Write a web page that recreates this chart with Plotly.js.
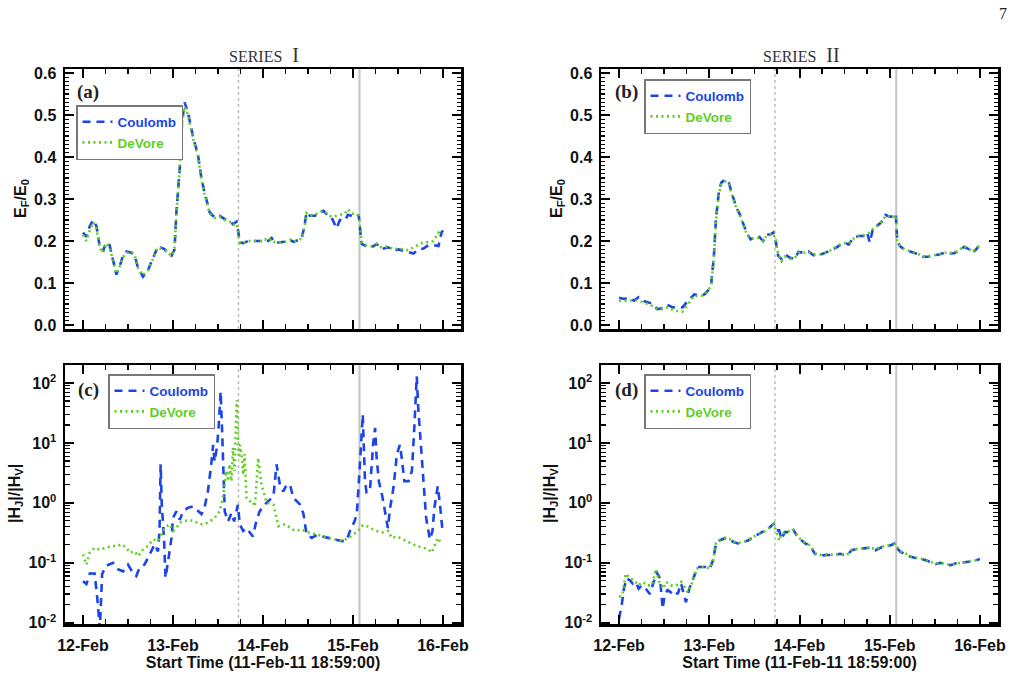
<!DOCTYPE html>
<html>
<head>
<meta charset="utf-8">
<script src="https://cdn.plot.ly/plotly-3.0.1.min.js"></script>
<style>html,body{margin:0;padding:0;background:#fff;}#chart{width:1025px;height:692px;}</style>
</head>
<body>
<div id="chart"></div>
<script>
// ---- Data (hours after 2011-02-12 00:00 UT) ----
const seriesTitles = ['SERIES', 'SERIES'];
const seriesNumerals = ['I', 'II'];
const panelLabels = ['(a)', '(b)', '(c)', '(d)'];
const seriesNames = ['Coulomb', 'DeVore'];
const flareTimes = ['2011-02-13 17:28', '2011-02-15 01:44'];
const xAxisTitle = 'Start Time (11-Feb-11 18:59:00)';

// Panel (a): E_F/E_0, series I
const hoursA_C = [0,0.9,1.8,2.7,3.6,4.4,5.3,6.2,7.1,8,8.9,9.8,10.7,11.6,12.9,13.8,14.7,16,17.3,18.7,20,21.8,22.7,23.6,24.4,24.9,25.8,26.4,27.1,28,29.3,30.7,31.6,32.4,33.8,35.1,36.4,37.8,39.1,40,40.9,41.3,41.8,42.7,44,45.8,47.6,48.5,49.4,50.3,51.2,52.5,53.9,55.2,56.1,57.4,58.3,59,59.6,60.5,61.9,62.8,64.1,65.4,66.3,67.6,68.5,69.9,70.6,71.7,72.6,73.5,73.9,74.3,75.7,77,78.3,79.6,81.4,82.8,84.1,85.5,86.8,88.1,89.4,90.8,92.1,93.4,94.8,95.6,96];
const efA_C = [0.22,0.21,0.235,0.25,0.235,0.19,0.175,0.197,0.19,0.152,0.12,0.14,0.166,0.175,0.172,0.165,0.135,0.115,0.13,0.16,0.188,0.18,0.17,0.165,0.18,0.268,0.372,0.483,0.53,0.506,0.45,0.403,0.348,0.316,0.268,0.256,0.26,0.252,0.248,0.24,0.246,0.228,0.197,0.195,0.2,0.2,0.2,0.204,0.2,0.207,0.195,0.197,0.198,0.203,0.198,0.202,0.206,0.233,0.268,0.26,0.26,0.268,0.272,0.26,0.256,0.23,0.25,0.249,0.262,0.26,0.256,0.262,0.233,0.193,0.187,0.185,0.193,0.181,0.185,0.177,0.18,0.177,0.173,0.17,0.18,0.182,0.19,0.19,0.188,0.22,0.225];
const hoursA_D = hoursA_C;
const efA_D = [0.215,0.2,0.225,0.245,0.23,0.185,0.172,0.195,0.185,0.15,0.122,0.14,0.162,0.172,0.175,0.165,0.135,0.118,0.13,0.158,0.185,0.178,0.172,0.165,0.18,0.265,0.37,0.48,0.52,0.5,0.445,0.4,0.345,0.312,0.265,0.255,0.258,0.25,0.246,0.238,0.242,0.225,0.195,0.195,0.2,0.2,0.2,0.204,0.2,0.205,0.197,0.197,0.198,0.203,0.198,0.202,0.206,0.23,0.266,0.26,0.262,0.268,0.272,0.262,0.258,0.26,0.262,0.266,0.276,0.265,0.265,0.26,0.233,0.195,0.19,0.187,0.193,0.185,0.187,0.18,0.182,0.18,0.178,0.185,0.19,0.197,0.197,0.2,0.22,0.215,0.218];

// Panel (b): E_F/E_0, series II
const hoursB_C = [0,1.3,2.7,4,5.2,6.2,7.6,8.9,10.2,11.6,12.9,14.3,15.6,16.9,18,19.2,20,21.4,22.7,23.6,24.5,25.2,25.8,26.6,27.2,28.3,29.2,30.1,31.2,32.1,33,33.9,35,36.1,37.3,38.3,39.2,40.3,41,41.7,42.3,43.2,44.1,45.5,46.8,47.7,49,50.4,51.7,53,54.4,56.1,57.9,59.7,61.1,62.4,63.7,65.1,66,66.7,67.6,68.6,69.7,70.9,72,73.1,73.6,74,74.7,75.9,77.1,78.4,79.8,81.1,82.4,83.8,85.1,86.5,87.8,89.1,90.5,91.8,93.2,94,95,96];
const efB_C = [0.065,0.062,0.065,0.058,0.066,0.058,0.054,0.051,0.038,0.04,0.048,0.042,0.043,0.042,0.054,0.067,0.073,0.07,0.073,0.081,0.097,0.16,0.256,0.32,0.339,0.347,0.339,0.311,0.28,0.264,0.24,0.22,0.204,0.209,0.21,0.2,0.215,0.216,0.22,0.2,0.165,0.157,0.168,0.16,0.157,0.174,0.172,0.175,0.166,0.167,0.17,0.177,0.185,0.196,0.192,0.208,0.212,0.212,0.22,0.196,0.232,0.236,0.244,0.262,0.258,0.258,0.264,0.2,0.188,0.18,0.177,0.172,0.168,0.162,0.163,0.165,0.168,0.172,0.17,0.171,0.177,0.186,0.18,0.172,0.18,0.192];
const hoursB_D = hoursB_C;
const efB_D = [0.057,0.058,0.057,0.06,0.058,0.055,0.05,0.045,0.037,0.038,0.042,0.036,0.033,0.032,0.045,0.062,0.07,0.068,0.072,0.08,0.095,0.158,0.25,0.315,0.335,0.342,0.335,0.308,0.278,0.262,0.238,0.218,0.205,0.208,0.208,0.2,0.212,0.215,0.218,0.2,0.17,0.152,0.163,0.158,0.16,0.172,0.172,0.174,0.168,0.167,0.17,0.177,0.186,0.196,0.194,0.206,0.212,0.214,0.218,0.22,0.23,0.236,0.244,0.26,0.258,0.258,0.262,0.2,0.188,0.18,0.177,0.173,0.168,0.163,0.164,0.166,0.168,0.172,0.172,0.172,0.178,0.188,0.18,0.174,0.182,0.19];

// Panel (c): |H_J|/|H_V|, series I
const hoursC_C = [0,0.9,1.8,3.1,3.8,4.5,5.1,6.2,8,9.3,10.7,12,13.3,14.2,15.1,16.4,17.8,19.1,20,20.4,20.7,21,21.6,22,22.7,23.6,24,24.9,25.8,26.7,28,29.3,30.2,31.6,32.4,33.3,34.2,34.7,35.1,35.8,36.2,36.7,37.1,37.4,37.8,38.7,39.6,40.3,40.9,41.3,41.8,42.7,43.6,44.4,45.3,46.2,47.1,48.4,49.9,50.8,51.6,52.5,53.4,54.3,55.2,56.1,57,57.9,58.8,59.6,61,62.3,63.7,65.4,67.2,69,70.3,71.2,72.4,73,73.4,73.9,74.1,74.6,74.9,75.2,75.6,76.5,77.4,77.9,78.3,78.9,79.8,80.7,81.3,81.9,82.8,83.7,84.5,85,85.7,86.8,87.7,88.3,88.7,89,89.4,90.1,90.8,91.5,92.5,93.2,93.7,94.6,95.2,95.8];
const hjC_C = [0.049,0.044,0.066,0.066,0.026,0.008,0.065,0.089,0.1,0.078,0.072,0.093,0.068,0.06,0.083,0.093,0.138,0.204,0.155,0.34,4.4,0.93,0.26,0.056,0.107,0.26,0.56,0.72,0.52,0.72,0.83,0.87,0.78,0.65,0.83,1.55,4.4,9.3,4.9,9.3,20,72,15.5,4.4,0.72,0.49,0.68,0.49,0.68,0.93,0.44,0.34,0.38,0.32,0.275,0.49,0.72,0.93,1.15,1.3,4.4,2.0,1.55,2.0,2.0,1.2,1.07,0.93,0.65,0.3,0.26,0.29,0.275,0.26,0.245,0.23,0.235,0.34,0.49,0.65,1.55,4.4,8.3,30,4.4,2.3,1.5,1.55,10,17.8,5.6,2.3,1.3,0.65,0.38,0.83,1.8,6.5,9.3,5.6,2.3,2.3,3.4,15.5,72,130,38,8.3,2.0,0.56,0.245,0.34,0.83,1.9,0.93,0.38];
const hoursC_D = [0,0.9,1.8,3.1,4.4,5.8,7.6,9.3,10.2,11.6,12.4,13.8,14.7,16,17.3,18.7,20,21.8,23.1,24,24.9,25.8,27.1,28.4,29.8,31.1,32.4,33.8,35.1,36.4,37.3,38.2,38.7,39.1,39.6,40,40.4,40.7,41,41.3,41.6,41.9,42.4,42.7,43.1,43.6,44.4,45.3,45.8,46.2,46.7,47.6,48.1,49,50.8,52.1,53.9,55.2,56.5,58.3,60.1,61.9,63.7,65.4,67.2,69,70.8,72.1,73.4,74.3,75.2,76.5,78.3,80.1,81.4,82.3,83.7,85.4,87.2,89,90.8,92.1,93,93.7,94.6,95.7];
const hjC_D = [0.138,0.093,0.148,0.178,0.166,0.178,0.19,0.19,0.204,0.178,0.148,0.155,0.129,0.166,0.19,0.245,0.23,0.38,0.44,0.34,0.38,0.47,0.49,0.52,0.49,0.44,0.44,0.49,0.56,0.72,1.2,3.4,2.3,4.4,2.3,8.3,3.4,20,52,15.5,5.6,9.3,5.6,2.95,6.5,1.2,1.07,1.07,0.87,1.8,5.6,2.0,1.55,1.0,0.93,0.41,0.44,0.38,0.34,0.36,0.32,0.3,0.28,0.27,0.25,0.23,0.26,0.3,0.34,0.41,0.43,0.38,0.34,0.32,0.34,0.26,0.275,0.245,0.214,0.19,0.178,0.166,0.148,0.19,0.26,0.204];

// Panel (d): |H_J|/|H_V|, series II
const hoursD_C = [0,0.7,1.3,2,2.9,3.6,4.5,5.2,6,7.1,8.2,9.1,10,10.9,11.6,12.1,12.9,13.8,14.7,15.6,16.5,17.1,17.8,18.7,19.6,20.9,21.8,23,24.1,25,25.8,26.7,28.1,29.4,30.3,31.6,33,34.3,35.7,37,38.3,39.7,40.6,41.2,41.9,42.6,43.2,44.1,45,46.2,47.2,48.1,49.5,50.8,52.1,53.5,55.3,57,58.8,60.6,61.9,63.3,65.1,66.8,68.2,69.5,70.9,72.2,73.5,74,74.9,76.2,77.5,78.9,80.2,81.6,82.9,84.2,85.6,86.9,88.2,89.6,90.9,92.2,93.6,94.9,96];
const hjD_C = [0.0117,0.0195,0.037,0.055,0.051,0.045,0.048,0.037,0.042,0.037,0.03,0.048,0.069,0.055,0.017,0.029,0.035,0.032,0.035,0.03,0.045,0.032,0.022,0.037,0.051,0.085,0.085,0.085,0.079,0.11,0.21,0.234,0.257,0.25,0.224,0.21,0.224,0.234,0.27,0.3,0.324,0.37,0.417,0.447,0.347,0.347,0.25,0.324,0.324,0.37,0.29,0.25,0.21,0.195,0.141,0.132,0.135,0.135,0.141,0.132,0.162,0.17,0.174,0.178,0.162,0.178,0.195,0.195,0.214,0.174,0.151,0.141,0.126,0.12,0.117,0.11,0.102,0.095,0.1,0.093,0.091,0.098,0.1,0.102,0.105,0.11,0.115];
const hoursD_D = [0,0.9,1.8,2.9,4,5.2,6.2,7.6,8.7,9.8,10.7,11.8,12.5,13.8,15.2,16.5,17.4,18.3,19.2,20.5,21.8,23,24.1,25,25.8,26.7,28.1,29.4,30.3,31.6,33,34.3,35.7,37,38.3,39.7,40.6,41.2,41.9,42.6,43.2,44.1,45,46.2,47.2,48.1,49.5,50.8,52.1,53.5,55.3,57,58.8,60.6,61.9,63.3,65.1,66.8,68.2,69.5,70.9,72.2,73.5,74,74.9,76.2,77.5,78.9,80.2,81.6,82.9,84.2,85.6,86.9,88.2,89.6,90.9,92.2,93.6,94.9,96];
const hjD_D = [0.027,0.029,0.066,0.055,0.051,0.042,0.048,0.042,0.042,0.079,0.048,0.037,0.048,0.042,0.042,0.048,0.04,0.032,0.042,0.079,0.085,0.085,0.08,0.11,0.215,0.24,0.26,0.25,0.225,0.212,0.225,0.235,0.27,0.3,0.32,0.365,0.41,0.44,0.33,0.234,0.3,0.324,0.33,0.365,0.3,0.255,0.215,0.195,0.145,0.135,0.138,0.136,0.142,0.135,0.165,0.17,0.175,0.18,0.168,0.178,0.195,0.198,0.205,0.178,0.155,0.143,0.128,0.122,0.118,0.112,0.104,0.097,0.1,0.094,0.093,0.098,0.1,0.103,0.106,0.11,0.116];

const logTickVals = [0.01, 0.1, 1, 10, 100];
const logTickText = ['10<sup>-2</sup>', '10<sup>-1</sup>', '10<sup>0</sup>', '10<sup>1</sup>', '10<sup>2</sup>'];

// ---- Build ----
const T0 = Date.UTC(2011, 1, 12);
function toDate(h) {
  const d = new Date(T0 + Math.round(h * 3600000));
  return d.toISOString().replace('T', ' ').slice(0, 19);
}
const BLUE = '#1c44e6';
const GREEN = '#5fcf1f';
const FONT = 'Liberation Sans, Arial, sans-serif';
const SERIF = 'Liberation Serif, DejaVu Serif, serif';

const panels = [
  {hc: hoursA_C, vc: efA_C, hd: hoursA_D, vd: efA_D, xa: 'x', ya: 'y', lg: 'legend'},
  {hc: hoursB_C, vc: efB_C, hd: hoursB_D, vd: efB_D, xa: 'x2', ya: 'y2', lg: 'legend2'},
  {hc: hoursC_C, vc: hjC_C, hd: hoursC_D, vd: hjC_D, xa: 'x3', ya: 'y3', lg: 'legend3'},
  {hc: hoursD_C, vc: hjD_C, hd: hoursD_D, vd: hjD_D, xa: 'x4', ya: 'y4', lg: 'legend4'}
];
const traces = [];
panels.forEach(p => {
  traces.push({
    x: p.hc.map(toDate), y: p.vc, xaxis: p.xa, yaxis: p.ya, legend: p.lg,
    type: 'scatter', mode: 'lines',
    name: '<span style="color:' + BLUE + '">' + seriesNames[0] + '</span>',
    line: {color: BLUE, width: 2.6, dash: '8px,6px'}
  });
  traces.push({
    x: p.hd.map(toDate), y: p.vd, xaxis: p.xa, yaxis: p.ya, legend: p.lg,
    type: 'scatter', mode: 'lines',
    name: '<span style="color:' + GREEN + '">' + seriesNames[1] + '</span>',
    line: {color: GREEN, width: 2.6, dash: '2px,3.5px'}
  });
});

const W = 1025, H = 692;
const colX = [[65, 461], [601, 998]];
const rowY = [[69, 329], [365, 624]];
function dx(a) { return [a[0] / W, a[1] / W]; }
function dy(a) { return [(H - a[1]) / H, (H - a[0]) / H]; }

function mkX(col, row, labels) {
  const ax = {
    type: 'date', domain: dx(colX[col]),
    range: ['2011-02-11 19:12', '2011-02-16 04:48'],
    tick0: '2011-02-12', dtick: 86400000, tickformat: '%d-%b',
    ticks: 'inside', ticklen: 9, tickwidth: 2, tickcolor: '#000',
    showline: true, linewidth: 2.5, linecolor: '#000', mirror: 'ticks',
    showgrid: false, zeroline: false, fixedrange: true,
    showticklabels: labels, ticklabelstandoff: 5,
    tickfont: {family: FONT, size: 16, color: '#111', weight: 'bold'},
    minor: {dtick: 6 * 3600000, ticks: 'inside', ticklen: 5, tickwidth: 1.5, tickcolor: '#000', showgrid: false},
    anchor: row === 0 ? (col === 0 ? 'y' : 'y2') : (col === 0 ? 'y3' : 'y4')
  };
  if (labels) {
    ax.title = {text: '<b>' + xAxisTitle + '</b>', font: {family: FONT, size: 16, color: '#111'}, standoff: 0};
  }
  return ax;
}
function mkYlin(col) {
  return {
    domain: dy(rowY[0]), range: [-0.0095, 0.6095], dtick: 0.1, tick0: 0, tickformat: '.1f',
    ticks: 'inside', ticklen: 9, tickwidth: 2, tickcolor: '#000',
    showline: true, linewidth: 2.5, linecolor: '#000', mirror: 'ticks',
    showgrid: false, zeroline: false, fixedrange: true, ticklabelstandoff: 3,
    tickfont: {family: FONT, size: 16, color: '#111', weight: 'bold'},
    minor: {dtick: 0.01, ticks: 'inside', ticklen: 4, tickwidth: 1.2, tickcolor: '#000', showgrid: false},
    anchor: col === 0 ? 'x' : 'x2'
  };
}
const minorLog = [];
for (let e = -3; e <= 2; e++) for (let k = 2; k <= 9; k++) minorLog.push(k * Math.pow(10, e));
function mkYlog(col) {
  return {
    type: 'log', domain: dy(rowY[1]), range: [Math.log10(0.0095), Math.log10(200)],
    tickvals: logTickVals, ticktext: logTickText,
    ticks: 'inside', ticklen: 9, tickwidth: 2, tickcolor: '#000',
    showline: true, linewidth: 2.5, linecolor: '#000', mirror: 'ticks',
    showgrid: false, zeroline: false, fixedrange: true, ticklabelstandoff: 3,
    tickfont: {family: FONT, size: 16, color: '#111', weight: 'bold'},
    minor: {tickvals: minorLog, ticks: 'inside', ticklen: 5, tickwidth: 1.2, tickcolor: '#000', showgrid: false},
    anchor: col === 0 ? 'x3' : 'x4'
  };
}

function mkLegend(left, top) {
  return {
    x: left / W, y: (H - top) / H, xanchor: 'left', yanchor: 'top', xref: 'paper', yref: 'paper',
    bgcolor: 'rgba(255,255,255,1)', bordercolor: '#777', borderwidth: 1.5,
    font: {family: FONT, size: 13.5, weight: 'bold'}, tracegroupgap: 0, itemwidth: 30
  };
}

const shapes = [];
['x', 'x2', 'x3', 'x4'].forEach(xa => {
  shapes.push({type: 'line', xref: xa, yref: xa.replace('x', 'y') + ' domain', x0: flareTimes[0], x1: flareTimes[0], y0: 0, y1: 1,
    line: {color: '#bdbdbd', width: 1.5, dash: 'dot'}, layer: 'below'});
  shapes.push({type: 'line', xref: xa, yref: xa.replace('x', 'y') + ' domain', x0: flareTimes[1], x1: flareTimes[1], y0: 0, y1: 1,
    line: {color: '#c4c4c4', width: 2}, layer: 'below'});
});

function ann(text, x, y, opts) {
  return Object.assign({text: text, x: x / W, y: (H - y) / H, xref: 'paper', yref: 'paper', showarrow: false,
    xanchor: 'center', yanchor: 'middle'}, opts || {});
}
function seriesTitle(i) {
  return '<span style="font-size:16px">' + seriesTitles[i] + '</span>\u00a0\u00a0' + seriesNumerals[i];
}
const annotations = [
  ann(seriesTitle(0), 264, 55, {font: {family: SERIF, size: 20, color: '#333'}}),
  ann(seriesTitle(1), 801, 55, {font: {family: SERIF, size: 20, color: '#333'}}),
  ann('7', 1003, 13, {font: {family: SERIF, size: 16, color: '#222'}}),
  ann(panelLabels[0], 88, 92, {font: {family: SERIF, size: 19, color: '#222', weight: 'bold'}}),
  ann(panelLabels[1], 626, 92, {font: {family: SERIF, size: 19, color: '#222', weight: 'bold'}}),
  ann(panelLabels[2], 88, 390, {font: {family: SERIF, size: 19, color: '#222', weight: 'bold'}}),
  ann(panelLabels[3], 626, 390, {font: {family: SERIF, size: 19, color: '#222', weight: 'bold'}}),
  ann('<b>E<sub>F</sub>/E<sub>0</sub></b>', 21, 199, {textangle: -90, font: {family: FONT, size: 16, color: '#111'}}),
  ann('<b>E<sub>F</sub>/E<sub>0</sub></b>', 557, 199, {textangle: -90, font: {family: FONT, size: 16, color: '#111'}}),
  ann('<b>|H<sub>J</sub>|/|H<sub>V</sub>|</b>', 16, 494, {textangle: -90, font: {family: FONT, size: 16, color: '#111'}}),
  ann('<b>|H<sub>J</sub>|/|H<sub>V</sub>|</b>', 551, 494, {textangle: -90, font: {family: FONT, size: 16, color: '#111'}})
];

const layout = {
  width: W, height: H, autosize: false,
  margin: {l: 0, r: 0, t: 0, b: 0},
  paper_bgcolor: '#fff', plot_bgcolor: '#fff',
  showlegend: true,
  xaxis: mkX(0, 0, false), xaxis2: mkX(1, 0, false), xaxis3: mkX(0, 1, true), xaxis4: mkX(1, 1, true),
  yaxis: mkYlin(0), yaxis2: mkYlin(1), yaxis3: mkYlog(0), yaxis4: mkYlog(1),
  legend: mkLegend(76, 105), legend2: mkLegend(644, 79), legend3: mkLegend(108, 374), legend4: mkLegend(644, 374),
  shapes: shapes, annotations: annotations
};
Plotly.newPlot('chart', traces, layout, {staticPlot: true, displayModeBar: false});
</script>
</body>
</html>
